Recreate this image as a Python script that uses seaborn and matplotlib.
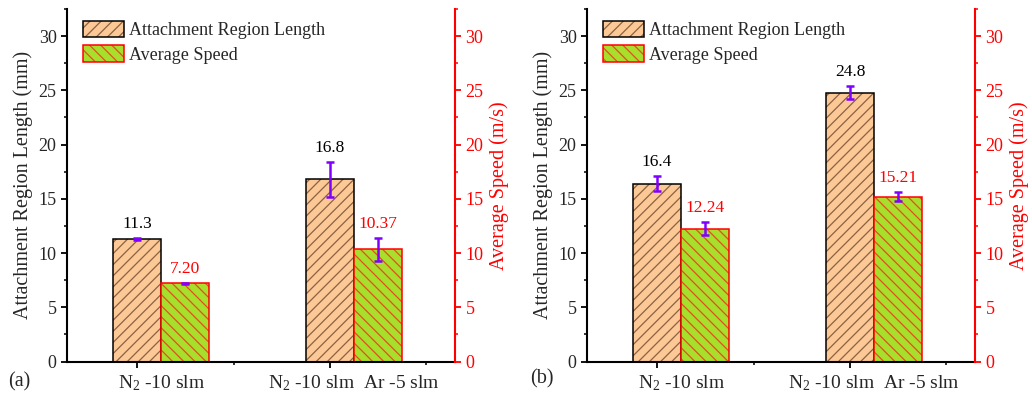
import matplotlib
matplotlib.use("Agg")
import matplotlib.pyplot as plt
import matplotlib.transforms as mtransforms
from matplotlib.patches import Patch
from matplotlib.ticker import MultipleLocator, FixedLocator
import matplotlib.colors as mcolors
import numpy as np
import pandas as pd
import seaborn as sns

# ---------------- data ----------------
conditions = ["N$_2$ -10 slm", "N$_2$ -10 slm  Ar -5 slm"]
series_names = ["Attachment Region Length", "Average Speed"]

length_a = [11.3, 16.8]
length_err_a = [0.10, 1.60]
speed_a = [7.20, 10.37]
speed_err_a = [0.08, 1.06]

length_b = [16.4, 24.8]
length_err_b = [0.70, 0.60]
speed_b = [12.24, 15.21]
speed_err_b = [0.62, 0.40]

panel_tags = ["(a)", "(b)"]
y_ticks = [0, 5, 10, 15, 20, 25, 30]

# ---------------- style ----------------
sns.set_style("ticks")
plt.rcParams["font.family"] = ["Liberation Serif", "DejaVu Serif"]
plt.rcParams["mathtext.fontset"] = "custom"
plt.rcParams["mathtext.rm"] = "Liberation Serif"
plt.rcParams["mathtext.it"] = "Liberation Serif:italic"
plt.rcParams["hatch.linewidth"] = 0.9

ORANGE = "#FCC896"
GREEN = "#A8DE2C"
ORANGE_HATCH = "#8A6242"
GREEN_HATCH = "#E2501E"
RED = "#FF0000"
PURPLE = "#8000FF"

fig = plt.figure(figsize=(10.32, 3.99), dpi=100)
positions = [[67 / 1032, 37.5 / 399, 388 / 1032, 352.5 / 399],
             [587 / 1032, 37.5 / 399, 388 / 1032, 352.5 / 399]]

panels = [
    (length_a, length_err_a, speed_a, speed_err_a),
    (length_b, length_err_b, speed_b, speed_err_b),
]

for pi, (lv, le, sv, se) in enumerate(panels):
    ax = fig.add_axes(positions[pi])
    df = pd.DataFrame({
        "condition": conditions * 2,
        "series": [series_names[0]] * 2 + [series_names[1]] * 2,
        "value": list(lv) + list(sv),
    })
    sns.barplot(data=df, x="condition", y="value", hue="series",
                order=conditions, hue_order=series_names,
                palette={series_names[0]: ORANGE, series_names[1]: GREEN},
                saturation=1, width=0.5, errorbar=None, ax=ax, legend=False)

    bar_containers = list(ax.containers)

    # style bars
    styles = [("black", ORANGE_HATCH, "///"), (RED, GREEN_HATCH, "\\\\\\")]
    for ci, cont in enumerate(bar_containers):
        ec, hc, hatch = styles[ci]
        for p in cont.patches:
            p.set_edgecolor(ec)
            p.set_linewidth(1.1)
            p.set_hatch(hatch)
            p._hatch_color = mcolors.to_rgba(hc)

    ylim = (0, 32.5)
    ax.set_ylim(*ylim)

    # error bars and value labels
    errs = [le, se]
    vals = [lv, sv]
    label_colors = ["black", RED]
    fmts = ["{:.1f}", "{:.2f}"]
    orange_centers = []
    for ci, cont in enumerate(bar_containers):
        xs = [p.get_x() + p.get_width() / 2 for p in cont.patches]
        if ci == 0:
            orange_centers = xs
        ax.errorbar(xs, vals[ci], yerr=errs[ci], fmt="none", ecolor=PURPLE,
                    elinewidth=1.8, capsize=3, capthick=1.8, zorder=5)
        for x, v, e in zip(xs, vals[ci], errs[ci]):
            ax.annotate(fmts[ci].format(v), (x, v + e), xytext=(0, 10),
                        textcoords="offset points", ha="center", va="center",
                        fontsize=12.5, color=label_colors[ci])

    # x axis
    step = orange_centers[1] - orange_centers[0]
    ax.set_xlim(orange_centers[0] - 0.363 * step, orange_centers[0] + 1.648 * step)
    ax.xaxis.set_major_locator(FixedLocator(orange_centers))
    ax.xaxis.set_minor_locator(FixedLocator([c + 0.5 * step for c in orange_centers]))
    ax.set_xticklabels([])
    ax.set_xlabel("")
    trans = mtransforms.blended_transform_factory(ax.transData, ax.transAxes)
    for ci, cname in enumerate(conditions):
        ax.annotate(cname, (ci, 0), xycoords=trans, xytext=(0, -15.5),
                    textcoords="offset points", ha="center", va="center",
                    fontsize=14)

    # left y axis
    ax.set_yticks(y_ticks)
    ax.yaxis.set_minor_locator(MultipleLocator(2.5))
    ax.set_ylabel("Attachment Region Length (mm)", fontsize=14.5, labelpad=4)
    ax.tick_params(axis="both", which="major", direction="out", length=4,
                   width=1.3, labelsize=13, color="black")
    ax.tick_params(axis="both", which="minor", direction="out", length=2.5,
                   width=1.1, color="black")
    ax.tick_params(axis="x", which="major", pad=2)
    for s in ["left", "bottom"]:
        ax.spines[s].set_linewidth(1.5)
        ax.spines[s].set_color("black")
    ax.spines["top"].set_visible(False)
    ax.spines["right"].set_visible(False)

    # right y axis
    ax2 = ax.twinx()
    ax2.set_ylim(*ylim)
    ax2.set_yticks(y_ticks)
    ax2.yaxis.set_minor_locator(MultipleLocator(2.5))
    ax2.set_ylabel("Average Speed (m/s)", fontsize=14.5, color=RED, labelpad=4)
    ax2.tick_params(axis="y", which="major", direction="out", length=4,
                    width=1.3, labelsize=13, colors=RED)
    ax2.tick_params(axis="y", which="minor", direction="out", length=2.5,
                    width=1.1, colors=RED)
    for s in ["left", "top", "bottom"]:
        ax2.spines[s].set_visible(False)
    ax2.spines["right"].set_color(RED)
    ax2.spines["right"].set_linewidth(1.5)

    # legend
    h1 = Patch(facecolor=ORANGE, edgecolor="black", hatch="///", linewidth=1.1)
    h1._hatch_color = mcolors.to_rgba(ORANGE_HATCH)
    h2 = Patch(facecolor=GREEN, edgecolor=RED, hatch="\\\\\\", linewidth=1.1)
    h2._hatch_color = mcolors.to_rgba(GREEN_HATCH)
    ax2.legend([h1, h2], series_names, loc="upper left",
               bbox_to_anchor=(0.042, 0.967), frameon=False, fontsize=13,
               borderpad=0, borderaxespad=0, handlelength=2.25,
               handleheight=1.05, handletextpad=0.3, labelspacing=0.35)

    # panel tag
    fig.text((19 if pi == 0 else 542) / 1032, 1 - (382 if pi == 0 else 379) / 399,
             panel_tags[pi], fontsize=14.5, ha="center", va="center")

fig.savefig("out.png", dpi=100)
